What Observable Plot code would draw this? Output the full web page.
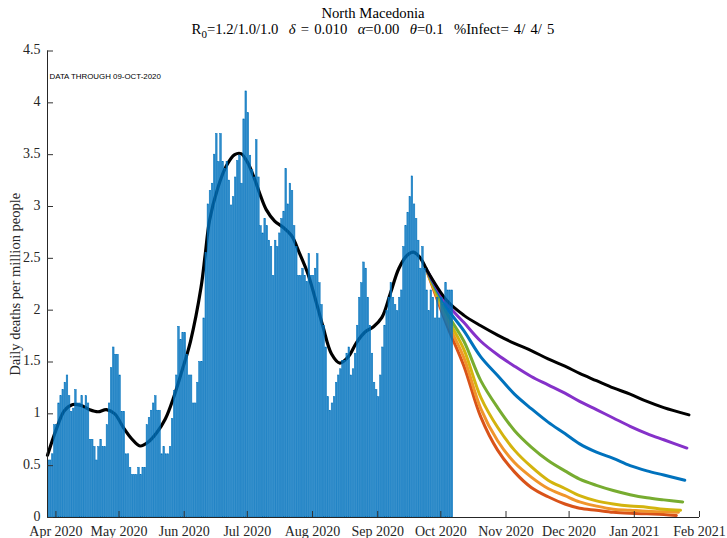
<!DOCTYPE html>
<html><head><meta charset="utf-8">
<script src="https://cdn.jsdelivr.net/npm/d3@7"></script>
<script src="https://cdn.jsdelivr.net/npm/@observablehq/plot@0.6"></script>
<style>
body{margin:0;background:#fff;}
#wrap{position:relative;width:727px;height:538px;}
.ttl{position:absolute;left:47px;width:652px;text-align:center;font-family:"Liberation Serif";font-size:14.7px;line-height:16px;color:#000;white-space:pre;z-index:2;}
#t2{word-spacing:1.5px;}
.ttl sub{font-size:11px;vertical-align:-4px;line-height:0;}
</style></head><body>
<div id="wrap">
<div class="ttl" id="t1" style="top:5px"></div>
<div class="ttl" id="t2" style="top:21px"></div>
</div>
<script>
const titleText = "North Macedonia";
const subtitleHTML = "R<sub>0</sub>=1.2/1.0/1.0  <i>δ</i> = 0.010  <i>α</i>=0.00  <i>θ</i>=0.1  %Infect= 4/ 4/ 5";
const dataNote = "DATA THROUGH 09-OCT-2020";
const yLabel = "Daily deaths per million people";

const xDomain = ["2020-03-28", "2021-02-01"];
const xTicks = ["2020-04-01","2020-05-01","2020-06-01","2020-07-01","2020-08-01","2020-09-01","2020-10-01","2020-11-01","2020-12-01","2021-01-01","2021-02-01"];
const yTicks = [0,0.5,1,1.5,2,2.5,3,3.5,4,4.5];

const barStart = "2020-03-28";
const deaths = [
0.55,0.55,0.61,0.89,0.89,1.10,1.17,1.23,1.30,1.37,
1.17,1.02,1.05,1.23,1.10,1.10,1.17,1.05,1.17,1.10,
0.75,0.75,0.68,0.55,0.68,0.75,0.68,0.68,0.89,1.10,
1.44,1.64,1.57,1.57,1.37,1.02,1.02,0.61,0.61,0.48,
0.41,0.41,0.41,0.48,0.41,0.48,0.48,0.89,0.96,1.03,
1.10,1.17,1.03,1.03,0.61,0.68,0.61,0.61,0.68,0.95,
1.22,1.37,1.84,1.71,1.78,1.78,1.57,1.37,1.37,1.10,
1.10,1.30,1.50,1.50,1.92,2.55,3.02,3.15,3.22,3.50,
3.70,3.43,3.70,3.43,3.36,3.43,3.25,3.01,3.09,3.28,
3.44,3.49,3.22,3.84,4.11,3.90,3.49,3.35,3.28,3.64,
3.28,2.81,2.74,2.88,2.81,2.67,2.61,2.33,2.67,2.61,
2.74,2.88,2.95,3.36,3.02,3.22,3.15,2.81,2.61,2.33,
2.33,2.40,2.33,2.27,2.54,2.33,2.33,2.40,2.54,2.26,
2.05,1.85,1.64,1.16,1.03,1.10,1.16,1.30,1.37,1.43,
1.51,1.51,1.58,1.64,1.37,1.43,1.58,1.85,2.12,2.26,
2.46,2.40,2.12,1.85,1.58,1.30,1.23,1.16,1.37,1.64,
1.85,1.99,2.12,2.26,2.12,2.05,1.99,2.12,2.19,2.61,
2.81,2.94,3.09,3.29,3.02,2.88,2.67,2.40,2.61,2.40,
2.19,1.99,2.19,2.12,1.92,2.12,1.92,2.12,2.05,2.26,
2.19,2.19,2.19];

const fitDates = ["2020-03-28","2020-04-01","2020-04-05","2020-04-09","2020-04-13","2020-04-17","2020-04-21","2020-04-25","2020-04-29","2020-05-03","2020-05-07","2020-05-11","2020-05-15","2020-05-19","2020-05-23","2020-05-27","2020-05-31","2020-06-04","2020-06-09","2020-06-11","2020-06-13","2020-06-17","2020-06-21","2020-06-25","2020-06-28","2020-07-01","2020-07-04","2020-07-07","2020-07-10","2020-07-14","2020-07-18","2020-07-22","2020-07-26","2020-07-30","2020-08-03","2020-08-06","2020-08-10","2020-08-14","2020-08-18","2020-08-22","2020-08-26","2020-08-30","2020-09-03","2020-09-07","2020-09-11","2020-09-15","2020-09-18","2020-09-21","2020-09-24"];
const fitValues = [0.60,0.84,1.03,1.09,1.08,1.04,1.02,1.04,1.00,0.87,0.76,0.69,0.73,0.82,0.95,1.16,1.42,1.70,2.22,2.54,2.86,3.18,3.39,3.50,3.51,3.43,3.29,3.12,2.97,2.86,2.80,2.72,2.54,2.34,2.06,1.84,1.58,1.49,1.55,1.69,1.79,1.84,1.93,2.16,2.40,2.53,2.56,2.51,2.40];

const projDates = ["2020-09-24","2020-10-04","2020-10-12","2020-10-20","2020-10-28","2020-11-05","2020-11-13","2020-11-21","2020-11-29","2020-12-06","2020-12-14","2020-12-22","2020-12-30","2021-01-07","2021-01-15"];
const projEndDates = ["2021-01-27","2021-01-26","2021-01-25","2021-01-24","2021-01-23","2021-01-22","2021-01-21"];
const projColors = ["#000000","#8531c9","#0072bd","#77ac30","#d3b40e","#f0952b","#d95319"];
const projBlack  = [2.40,2.09,1.95,1.85,1.76,1.68,1.61,1.53,1.46,1.39,1.32,1.25,1.19,1.12,1.06,0.99];
const projPurple = [2.40,2.06,1.88,1.70,1.57,1.46,1.36,1.28,1.20,1.12,1.04,0.96,0.88,0.81,0.75,0.67];
const projBlue   = [2.40,2.02,1.80,1.55,1.37,1.19,1.05,0.92,0.81,0.71,0.63,0.57,0.50,0.45,0.41,0.36];
const projGreen  = [2.40,1.97,1.70,1.32,1.06,0.84,0.68,0.55,0.45,0.37,0.31,0.26,0.22,0.19,0.17,0.15];
const projYellow = [2.40,1.93,1.62,1.16,0.87,0.65,0.49,0.36,0.28,0.21,0.16,0.13,0.11,0.10,0.08,0.07];
const projOrange = [2.40,1.89,1.54,1.05,0.74,0.53,0.39,0.28,0.21,0.15,0.11,0.08,0.07,0.06,0.055,0.05];
const projRed    = [2.40,1.85,1.46,0.97,0.65,0.44,0.29,0.20,0.13,0.09,0.07,0.05,0.04,0.035,0.03,0.02];
const projSeries = [projBlack, projPurple, projBlue, projGreen, projYellow, projOrange, projRed];

document.getElementById("t1").textContent = titleText;
document.getElementById("t2").innerHTML = subtitleHTML;

const parse = s => new Date(s + "T00:00:00Z");
const t0 = parse(barStart);
const bars = deaths.map((v, i) => ({date: d3.utcDay.offset(t0, i), value: v}));
const fit = fitDates.map((d, i) => ({date: parse(d), value: fitValues[i]}));
const proj = [];
projSeries.forEach((vals, k) => {
  const dates = projDates.concat([projEndDates[k]]);
  vals.forEach((v, i) => proj.push({series: k, date: parse(dates[i]), value: v}));
});
const projOrder = [6,5,4,3,2,1,0];
const tickDates = xTicks.map(parse);
const fmt = d3.utcFormat("%b %Y");

const chart = Plot.plot({
  width: 727, height: 538,
  marginLeft: 47, marginRight: 28, marginTop: 50.5, marginBottom: 21,
  style: {fontFamily: "Liberation Serif", fontSize: "14px", color: "#262626", background: "white"},
  x: {type: "utc", domain: xDomain.map(parse), label: null},
  y: {domain: [0, 4.5], label: null},
  marks: [
    ...projOrder.filter(k => k !== 0).map(k => Plot.line(proj.filter(d => d.series === k), {x: "date", y: "value", stroke: projColors[k], strokeWidth: 3, curve: "catmull-rom"})),
    Plot.line(proj.filter(d => d.series === 0), {x: "date", y: "value", stroke: projColors[0], strokeWidth: 3, curve: "catmull-rom"}),
    Plot.line(fit, {x: "date", y: "value", stroke: "#000", strokeWidth: 3.2, curve: "catmull-rom"}),
    Plot.rectY(bars, {x1: "date", x2: d => d3.utcDay.offset(d.date, 1), y: "value", fill: "#0072bd", fillOpacity: 0.82, stroke: "#0072bd", strokeWidth: 0.5, insetLeft: 0.25, insetRight: 0.25}),
    Plot.ruleY([0], {stroke: "#262626"}),
    Plot.ruleX([xDomain[0]].map(parse), {stroke: "#262626"}),
    Plot.axisY({ticks: yTicks, tickSize: 0, tickPadding: 7, fontSize: 14, tickFormat: d => String(d), fill: "#262626", dy: -1}),
    Plot.axisY({ticks: yTicks, tickSize: -6, tickFormat: () => "", stroke: "#333"}),
    Plot.axisX({ticks: tickDates, tickSize: 0, tickPadding: 8.5, fontSize: 14, tickFormat: fmt, fill: "#262626"}),
    Plot.axisX({ticks: tickDates, tickSize: -6, tickFormat: () => "", stroke: "#333"}),
    Plot.text([dataNote], {text: d => d, frameAnchor: "top-left", dx: 2, dy: 22, textAnchor: "start", fontSize: 7.9, fontFamily: "Liberation Sans", fill: "#000"}),
    Plot.text([yLabel], {text: d => d, frameAnchor: "left", dx: -32, rotate: -90, textAnchor: "middle", fontSize: 14.5, fill: "#262626"})
  ]
});
document.getElementById("wrap").prepend(chart);
chart.style.position = "absolute"; chart.style.left = "0"; chart.style.top = "0";
</script>
</body></html>
